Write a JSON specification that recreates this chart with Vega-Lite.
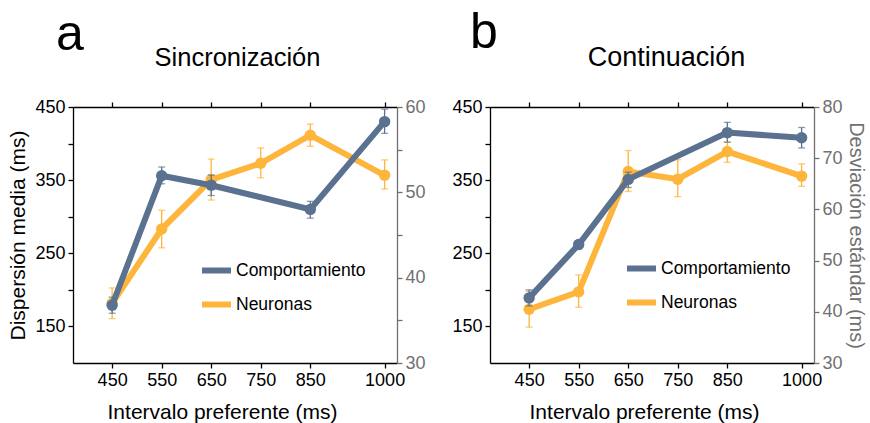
{
  "$schema": "https://vega.github.io/schema/vega-lite/v6.json",
  "data": {"values": [
    {"panel": "a", "serie": "Comportamiento", "intervalo": 450, "valor": 179, "lo": 168, "hi": 190},
    {"panel": "a", "serie": "Comportamiento", "intervalo": 550, "valor": 356, "lo": 345, "hi": 368},
    {"panel": "a", "serie": "Comportamiento", "intervalo": 650, "valor": 343, "lo": 329, "hi": 357},
    {"panel": "a", "serie": "Comportamiento", "intervalo": 850, "valor": 310, "lo": 298, "hi": 321},
    {"panel": "a", "serie": "Comportamiento", "intervalo": 1000, "valor": 430, "lo": 414, "hi": 447},
    {"panel": "a", "serie": "Neuronas", "intervalo": 450, "valor": 37.0, "lo": 35.2, "hi": 38.8},
    {"panel": "a", "serie": "Neuronas", "intervalo": 550, "valor": 45.7, "lo": 43.5, "hi": 47.9},
    {"panel": "a", "serie": "Neuronas", "intervalo": 650, "valor": 51.5, "lo": 49.1, "hi": 53.9},
    {"panel": "a", "serie": "Neuronas", "intervalo": 750, "valor": 53.4, "lo": 51.7, "hi": 55.2},
    {"panel": "a", "serie": "Neuronas", "intervalo": 850, "valor": 56.7, "lo": 55.4, "hi": 58.0},
    {"panel": "a", "serie": "Neuronas", "intervalo": 1000, "valor": 52.0, "lo": 50.4, "hi": 53.8},
    {"panel": "b", "serie": "Comportamiento", "intervalo": 450, "valor": 189, "lo": 178, "hi": 200},
    {"panel": "b", "serie": "Comportamiento", "intervalo": 550, "valor": 262, "lo": 256, "hi": 267},
    {"panel": "b", "serie": "Comportamiento", "intervalo": 650, "valor": 351, "lo": 340, "hi": 361},
    {"panel": "b", "serie": "Comportamiento", "intervalo": 850, "valor": 415, "lo": 402, "hi": 429},
    {"panel": "b", "serie": "Comportamiento", "intervalo": 1000, "valor": 408, "lo": 394, "hi": 422},
    {"panel": "b", "serie": "Neuronas", "intervalo": 450, "valor": 40.5, "lo": 37.0, "hi": 44.0},
    {"panel": "b", "serie": "Neuronas", "intervalo": 550, "valor": 43.9, "lo": 40.9, "hi": 47.2},
    {"panel": "b", "serie": "Neuronas", "intervalo": 650, "valor": 67.4, "lo": 63.5, "hi": 71.5},
    {"panel": "b", "serie": "Neuronas", "intervalo": 750, "valor": 65.9, "lo": 62.5, "hi": 69.7},
    {"panel": "b", "serie": "Neuronas", "intervalo": 850, "valor": 71.3, "lo": 69.2, "hi": 73.1},
    {"panel": "b", "serie": "Neuronas", "intervalo": 1000, "valor": 66.5, "lo": 64.5, "hi": 68.9}
  ]},
  "spacing": 93,
  "bounds": "flush",
  "padding": {"left": 7, "top": 8, "right": 5, "bottom": 5},
  "resolve": {"scale": {"color": "independent"}, "legend": {"color": "independent"}},
  "hconcat": [
    {
      "width": 324, "height": 256,
      "title": {"text": "a", "anchor": "start", "frame": "group", "fontSize": 50, "fontWeight": "normal", "dx": -17, "offset": -15, "color": "black"},
      "layer": [
        {
          "transform": [{"filter": "datum.panel == 'a' && datum.serie == 'Neuronas'"}],
          "encoding": {
            "x": {"field": "intervalo", "type": "quantitative", "scale": {"domain": [371, 1025], "nice": false, "zero": false},
                  "axis": {"orient": "top", "values": [450, 550, 650, 750, 850, 1000], "labels": false, "title": "Sincronización", "titleX": 164, "titleY": -42, "titleAlign": "center", "titleBaseline": "alphabetic", "titleFontSize": 25.5}}
          },
          "layer": [
            {"mark": {"type": "errorbar", "ticks": true, "size": 7, "thickness": 1.3, "color": "#FDB53C"},
             "encoding": {
               "y": {"field": "lo", "type": "quantitative", "scale": {"domain": [30, 60], "nice": false, "zero": false},
                     "axis": {"orient": "right", "title": null, "values": [30, 35, 40, 45, 50, 55, 60], "labelExpr": "datum.value % 10 == 0 ? datum.label : ''", "domainColor": "#707070", "tickColor": "#707070", "labelColor": "#707070"}},
               "y2": {"field": "hi"}}},
            {"mark": {"type": "line", "strokeWidth": 6},
             "encoding": {
               "y": {"field": "valor", "type": "quantitative", "scale": {"domain": [30, 60], "nice": false, "zero": false},
                     "axis": {"orient": "right", "title": null, "values": [30, 35, 40, 45, 50, 55, 60], "labelExpr": "datum.value % 10 == 0 ? datum.label : ''", "domainColor": "#707070", "tickColor": "#707070", "labelColor": "#707070"}},
               "color": {"field": "serie", "type": "nominal", "scale": {"domain": ["Comportamiento", "Neuronas"], "range": ["#5A7190", "#FDB53C"]},
                         "legend": {"orient": "none", "legendX": 126, "legendY": 146, "title": null, "symbolType": "stroke", "symbolSize": 841, "symbolStrokeWidth": 6, "labelFontSize": 17.5, "labelOffset": 2, "rowPadding": 4, "labelColor": "black"}}}},
            {"mark": {"type": "circle", "size": 130, "opacity": 1, "color": "#FDB53C"},
             "encoding": {
               "y": {"field": "valor", "type": "quantitative", "scale": {"domain": [30, 60], "nice": false, "zero": false},
                     "axis": {"orient": "right", "title": null, "values": [30, 35, 40, 45, 50, 55, 60], "labelExpr": "datum.value % 10 == 0 ? datum.label : ''", "domainColor": "#707070", "tickColor": "#707070", "labelColor": "#707070"}}}}
          ]
        },
        {
          "transform": [{"filter": "datum.panel == 'a' && datum.serie == 'Comportamiento'"}],
          "encoding": {
            "x": {"field": "intervalo", "type": "quantitative", "scale": {"domain": [371, 1025], "nice": false, "zero": false},
                  "axis": {"orient": "bottom", "values": [450, 550, 650, 750, 850, 1000], "format": "d", "title": "Intervalo preferente (ms)", "titleX": 149, "titlePadding": 12, "titleFontSize": 21}}
          },
          "layer": [
            {"mark": {"type": "errorbar", "ticks": true, "size": 7, "thickness": 1.3, "color": "#5A7190"},
             "encoding": {
               "y": {"field": "lo", "type": "quantitative", "scale": {"domain": [100, 450], "nice": false, "zero": false},
                     "axis": {"orient": "left", "title": "Dispersión media (ms)", "titleFontSize": 21, "values": [150, 200, 250, 300, 350, 400, 450], "labelExpr": "datum.value % 100 == 50 ? datum.label : ''"}},
               "y2": {"field": "hi"}}},
            {"mark": {"type": "line", "strokeWidth": 6},
             "encoding": {
               "y": {"field": "valor", "type": "quantitative", "scale": {"domain": [100, 450], "nice": false, "zero": false},
                     "axis": {"orient": "left", "title": "Dispersión media (ms)", "titleFontSize": 21, "values": [150, 200, 250, 300, 350, 400, 450], "labelExpr": "datum.value % 100 == 50 ? datum.label : ''"}},
               "color": {"field": "serie", "type": "nominal", "scale": {"domain": ["Comportamiento", "Neuronas"], "range": ["#5A7190", "#FDB53C"]},
                         "legend": {"orient": "none", "legendX": 126, "legendY": 146, "title": null, "symbolType": "stroke", "symbolSize": 841, "symbolStrokeWidth": 6, "labelFontSize": 17.5, "labelOffset": 2, "rowPadding": 4, "labelColor": "black"}}}},
            {"mark": {"type": "circle", "size": 130, "opacity": 1, "color": "#5A7190"},
             "encoding": {
               "y": {"field": "valor", "type": "quantitative", "scale": {"domain": [100, 450], "nice": false, "zero": false},
                     "axis": {"orient": "left", "title": "Dispersión media (ms)", "titleFontSize": 21, "values": [150, 200, 250, 300, 350, 400, 450], "labelExpr": "datum.value % 100 == 50 ? datum.label : ''"}}}}
          ]
        }
      ],
      "resolve": {"scale": {"y": "independent"}, "axis": {"x": "independent"}}
    },
    {
      "width": 324, "height": 256,
      "title": {"text": "b", "anchor": "start", "frame": "group", "fontSize": 50, "fontWeight": "normal", "dx": -20, "offset": -15, "color": "black"},
      "layer": [
        {
          "transform": [{"filter": "datum.panel == 'b' && datum.serie == 'Neuronas'"}],
          "encoding": {
            "x": {"field": "intervalo", "type": "quantitative", "scale": {"domain": [371, 1025], "nice": false, "zero": false},
                  "axis": {"orient": "top", "values": [450, 550, 650, 750, 850, 1000], "labels": false, "title": "Continuación", "titleX": 176, "titleY": -42, "titleAlign": "center", "titleBaseline": "alphabetic", "titleFontSize": 27}}
          },
          "layer": [
            {"mark": {"type": "errorbar", "ticks": true, "size": 7, "thickness": 1.3, "color": "#FDB53C"},
             "encoding": {
               "y": {"field": "lo", "type": "quantitative", "scale": {"domain": [30, 80], "nice": false, "zero": false},
                     "axis": {"orient": "right", "title": "Desviación estándar (ms)", "titleFontSize": 20, "titlePadding": 3, "values": [30, 40, 50, 60, 70, 80], "domainColor": "#707070", "tickColor": "#707070", "labelColor": "#707070", "titleColor": "#707070"}},
               "y2": {"field": "hi"}}},
            {"mark": {"type": "line", "strokeWidth": 6},
             "encoding": {
               "y": {"field": "valor", "type": "quantitative", "scale": {"domain": [30, 80], "nice": false, "zero": false},
                     "axis": {"orient": "right", "title": "Desviación estándar (ms)", "titleFontSize": 20, "titlePadding": 3, "values": [30, 40, 50, 60, 70, 80], "domainColor": "#707070", "tickColor": "#707070", "labelColor": "#707070", "titleColor": "#707070"}},
               "color": {"field": "serie", "type": "nominal", "scale": {"domain": ["Comportamiento", "Neuronas"], "range": ["#5A7190", "#FDB53C"]},
                         "legend": {"orient": "none", "legendX": 134, "legendY": 144, "title": null, "symbolType": "stroke", "symbolSize": 841, "symbolStrokeWidth": 6, "labelFontSize": 17.5, "labelOffset": 2, "rowPadding": 4, "labelColor": "black"}}}},
            {"mark": {"type": "circle", "size": 130, "opacity": 1, "color": "#FDB53C"},
             "encoding": {
               "y": {"field": "valor", "type": "quantitative", "scale": {"domain": [30, 80], "nice": false, "zero": false},
                     "axis": {"orient": "right", "title": "Desviación estándar (ms)", "titleFontSize": 20, "titlePadding": 3, "values": [30, 40, 50, 60, 70, 80], "domainColor": "#707070", "tickColor": "#707070", "labelColor": "#707070", "titleColor": "#707070"}}}}
          ]
        },
        {
          "transform": [{"filter": "datum.panel == 'b' && datum.serie == 'Comportamiento'"}],
          "encoding": {
            "x": {"field": "intervalo", "type": "quantitative", "scale": {"domain": [371, 1025], "nice": false, "zero": false},
                  "axis": {"orient": "bottom", "values": [450, 550, 650, 750, 850, 1000], "format": "d", "title": "Intervalo preferente (ms)", "titleX": 154, "titlePadding": 12, "titleFontSize": 21}}
          },
          "layer": [
            {"mark": {"type": "errorbar", "ticks": true, "size": 7, "thickness": 1.3, "color": "#5A7190"},
             "encoding": {
               "y": {"field": "lo", "type": "quantitative", "scale": {"domain": [100, 450], "nice": false, "zero": false},
                     "axis": {"orient": "left", "title": null, "values": [150, 200, 250, 300, 350, 400, 450], "labelExpr": "datum.value % 100 == 50 ? datum.label : ''"}},
               "y2": {"field": "hi"}}},
            {"mark": {"type": "line", "strokeWidth": 6},
             "encoding": {
               "y": {"field": "valor", "type": "quantitative", "scale": {"domain": [100, 450], "nice": false, "zero": false},
                     "axis": {"orient": "left", "title": null, "values": [150, 200, 250, 300, 350, 400, 450], "labelExpr": "datum.value % 100 == 50 ? datum.label : ''"}},
               "color": {"field": "serie", "type": "nominal", "scale": {"domain": ["Comportamiento", "Neuronas"], "range": ["#5A7190", "#FDB53C"]},
                         "legend": {"orient": "none", "legendX": 134, "legendY": 144, "title": null, "symbolType": "stroke", "symbolSize": 841, "symbolStrokeWidth": 6, "labelFontSize": 17.5, "labelOffset": 2, "rowPadding": 4, "labelColor": "black"}}}},
            {"mark": {"type": "circle", "size": 130, "opacity": 1, "color": "#5A7190"},
             "encoding": {
               "y": {"field": "valor", "type": "quantitative", "scale": {"domain": [100, 450], "nice": false, "zero": false},
                     "axis": {"orient": "left", "title": null, "values": [150, 200, 250, 300, 350, 400, 450], "labelExpr": "datum.value % 100 == 50 ? datum.label : ''"}}}}
          ]
        }
      ],
      "resolve": {"scale": {"y": "independent"}, "axis": {"x": "independent"}}
    }
  ],
  "config": {
    "font": "Liberation Sans",
    "view": {"stroke": null},
    "axis": {"grid": false, "domainColor": "black", "tickColor": "black", "labelColor": "black", "titleColor": "black", "labelFontSize": 18, "titleFontSize": 20, "titleFontWeight": "normal", "tickSize": 5, "domainWidth": 1.3, "tickWidth": 1.3, "labelPadding": 3, "titlePadding": 6, "labelOverlap": false},
    "legend": {"labelFont": "Liberation Sans"},
    "title": {"font": "Liberation Sans"}
  }
}
